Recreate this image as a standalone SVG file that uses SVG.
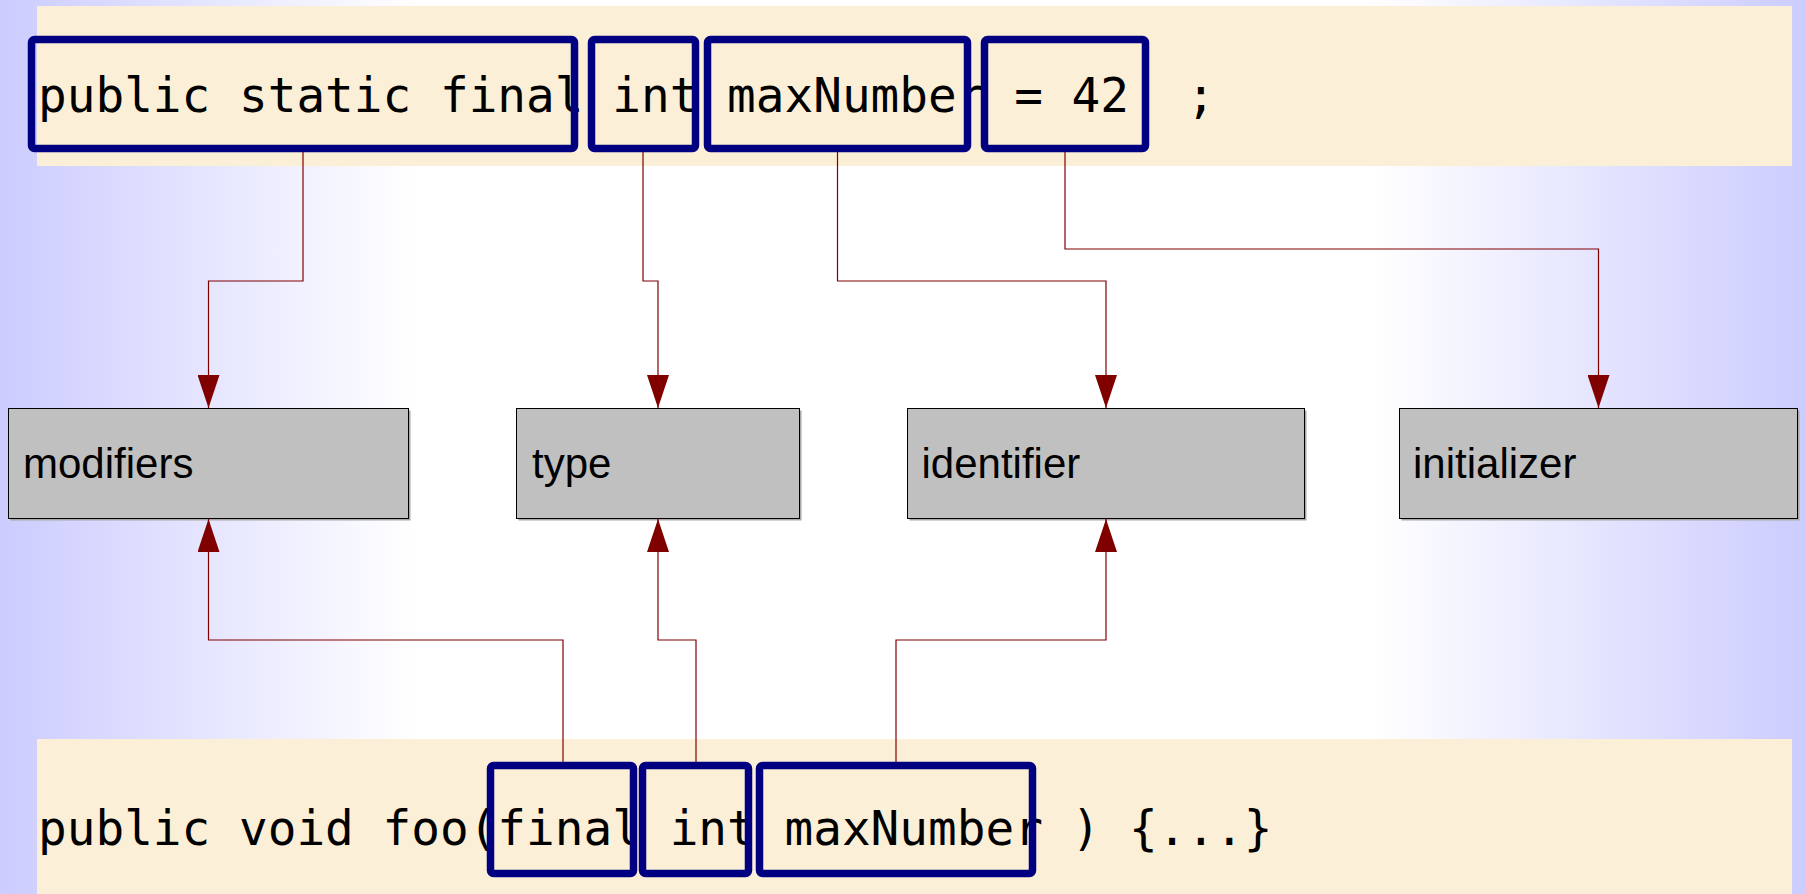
<svg xmlns="http://www.w3.org/2000/svg" width="1806" height="894" viewBox="0 0 1806 894">
  <defs>
    <linearGradient id="bg" x1="0" y1="0" x2="1" y2="0">
      <stop offset="0" stop-color="#ccccff"/>
      <stop offset="0.23" stop-color="#ffffff"/>
      <stop offset="0.76" stop-color="#ffffff"/>
      <stop offset="1" stop-color="#ccccff"/>
    </linearGradient>
    <marker id="arrow" viewBox="0 0 33 22" refX="33" refY="11" markerWidth="33" markerHeight="22" markerUnits="userSpaceOnUse" orient="auto">
      <path d="M0,0 L33,11 L0,22 z" fill="#800000"/>
    </marker>
    <style>
      .band { fill: #fcefd7; }
      .code { font-family: "DejaVu Sans Mono", "Liberation Mono", monospace; font-size: 47.7px; fill: #000000; white-space: pre; }
      .hl { fill: none; stroke: #000080; stroke-width: 7.5; }
      .node { fill: #c0c0c0; stroke: #000000; stroke-width: 1; }
      .shadow { fill: #a8a8a8; }
      .label { font-family: "Liberation Sans", Arial, sans-serif; font-size: 42px; fill: #000000; }
      .conn { fill: none; stroke: #800000; stroke-width: 1.2; marker-end: url(#arrow); }
    </style>
  </defs>

  <rect x="0" y="0" width="1806" height="894" fill="url(#bg)"/>

  <g id="top-code">
    <rect class="band" x="37" y="6" width="1755" height="160"/>
    <text class="code" x="38" y="112" xml:space="preserve">public static final int maxNumber = 42  ;</text>
    <rect id="hl-modifiers" class="hl" x="31.5" y="39.5" width="543" height="109" rx="3"/>
    <rect id="hl-type" class="hl" x="591.5" y="39.5" width="104" height="109" rx="3"/>
    <rect id="hl-identifier" class="hl" x="707.5" y="39.5" width="260" height="109" rx="3"/>
    <rect id="hl-initializer" class="hl" x="984.5" y="39.5" width="161" height="109" rx="3"/>
  </g>

  <g id="bottom-code">
    <rect class="band" x="37" y="739" width="1755" height="155"/>
    <text class="code" x="38" y="845" xml:space="preserve">public void foo(final int maxNumber ) {...}</text>
    <rect id="hl-final" class="hl" x="490.5" y="765.5" width="143" height="108" rx="3"/>
    <rect id="hl-int" class="hl" x="642.5" y="765.5" width="106" height="108" rx="3"/>
    <rect id="hl-maxNumber" class="hl" x="759.5" y="765.5" width="273" height="108" rx="3"/>
  </g>

  <g id="modifiers">
    <rect class="shadow" x="10.5" y="410.5" width="400" height="110"/>
    <rect class="node" x="8.5" y="408.5" width="400" height="110"/>
    <text class="label" x="23" y="478">modifiers</text>
  </g>
  <g id="type">
    <rect class="shadow" x="518.5" y="410.5" width="283" height="110"/>
    <rect class="node" x="516.5" y="408.5" width="283" height="110"/>
    <text class="label" x="532" y="478">type</text>
  </g>
  <g id="identifier">
    <rect class="shadow" x="909.5" y="410.5" width="397" height="110"/>
    <rect class="node" x="907.5" y="408.5" width="397" height="110"/>
    <text class="label" x="921.5" y="478">identifier</text>
  </g>
  <g id="initializer">
    <rect class="shadow" x="1401.5" y="410.5" width="398" height="110"/>
    <rect class="node" x="1399.5" y="408.5" width="398" height="110"/>
    <text class="label" x="1413" y="478">initializer</text>
  </g>

  <g id="connectors">
    <path class="conn" d="M303,152 V281 H208.5 V408"/>
    <path class="conn" d="M643,152 V281 H658 V408"/>
    <path class="conn" d="M837.5,152 V281 H1106 V408"/>
    <path class="conn" d="M1065,152 V249 H1598.5 V408"/>
    <path class="conn" d="M563,762 V640 H208.5 V519"/>
    <path class="conn" d="M696,762 V640 H658 V519"/>
    <path class="conn" d="M896,762 V640 H1106 V519"/>
  </g>
</svg>
